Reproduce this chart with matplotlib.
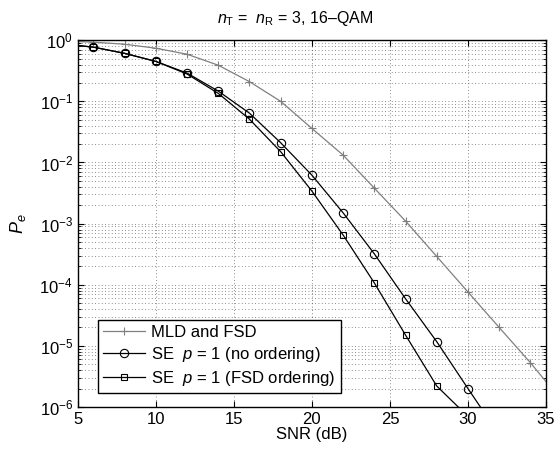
import matplotlib
matplotlib.use("Agg")
import matplotlib.pyplot as plt
import numpy as np
from matplotlib.ticker import LogLocator, NullFormatter

plt.rcParams['font.family'] = ['Liberation Sans', 'DejaVu Sans']
plt.rcParams['mathtext.fontset'] = 'custom'
plt.rcParams['mathtext.it'] = 'Liberation Sans:italic'
plt.rcParams['mathtext.rm'] = 'Liberation Sans'

snr_mld = [5, 6, 8, 10, 12, 14, 16, 18, 20, 22, 24, 26, 28, 30, 32, 34, 35]
pe_mld = [0.95, 0.93, 0.86, 0.74, 0.59, 0.39, 0.21, 0.10, 0.036, 0.0132, 0.0038,
          1.1e-3, 2.9e-4, 7.6e-5, 2.0e-5, 5.3e-6, 2.6e-6]

snr_se = [5, 6, 8, 10, 12, 14, 16, 18, 20, 22, 24, 26, 28, 30, 32]
pe_se_no = [0.82, 0.77, 0.61, 0.45, 0.29, 0.147, 0.064, 0.021, 6.2e-3, 1.5e-3,
            3.2e-4, 5.9e-5, 1.17e-5, 2.0e-6, 3.5e-7]
snr_fsd = [5, 6, 8, 10, 12, 14, 16, 18, 20, 22, 24, 26, 28, 30]
pe_se_fsd = [0.82, 0.77, 0.61, 0.45, 0.28, 0.135, 0.051, 0.015, 3.4e-3, 6.5e-4,
             1.07e-4, 1.5e-5, 2.2e-6, 7e-7]

labels = ['MLD and FSD', 'SE  $p$ = 1 (no ordering)', 'SE  $p$ = 1 (FSD ordering)']

fig = plt.figure(figsize=(5.56, 4.5), dpi=100)
ax = fig.add_axes([0.140, 0.0956, 0.842, 0.815])

gray = '#808080'
ax.semilogy(snr_mld, pe_mld, color=gray, lw=0.9, marker='+', ms=6, mew=0.8,
            markevery=list(range(1, len(snr_mld) - 1)), label=labels[0])
ax.semilogy(snr_se, pe_se_no, color='black', lw=0.9, marker='o', ms=6, mew=0.8,
            mfc='none', markevery=list(range(1, len(snr_se) - 1)), label=labels[1])
ax.semilogy(snr_fsd, pe_se_fsd, color='black', lw=0.9, marker='s', ms=5, mew=0.8,
            mfc='none', markevery=list(range(1, len(snr_fsd) - 1)), label=labels[2])

ax.set_xlim(5, 35)
ax.set_ylim(1e-6, 1)
ax.set_xticks([5, 10, 15, 20, 25, 30, 35])
ax.yaxis.set_major_locator(LogLocator(base=10, numticks=10))
ax.yaxis.set_minor_locator(LogLocator(base=10, subs=np.arange(2, 10), numticks=20))
ax.yaxis.set_minor_formatter(NullFormatter())
gls = (0, (1, 3))
ax.grid(True, which='major', linestyle=gls, color='black', lw=0.6, alpha=0.6)
ax.grid(True, which='minor', axis='y', linestyle=gls, color='black', lw=0.6, alpha=0.6)
ax.tick_params(which='both', direction='in', top=True, right=True, labelsize=12)
ax.tick_params(which='major', length=4)
ax.tick_params(which='minor', length=2)
for s in ax.spines.values():
    s.set_linewidth(1.0)

ax.set_xlabel('SNR (dB)', fontsize=12, labelpad=0)
ax.set_ylabel('$P_e$', fontsize=13, labelpad=8)
ax.text(0.464, 1.034, '$n_\\mathrm{T}$ =  $n_\\mathrm{R}$ = 3, 16\u2013QAM', fontsize=11.5,
        ha='center', va='bottom', transform=ax.transAxes)

leg = ax.legend(loc='lower left', bbox_to_anchor=(0.043, 0.038), fontsize=12,
                frameon=True, fancybox=False, edgecolor='black', framealpha=1,
                handlelength=2.5, handletextpad=0.4, borderaxespad=0,
                labelspacing=0.3, borderpad=0.3)
leg.get_frame().set_linewidth(1.0)

fig.savefig('out.png', dpi=100)
